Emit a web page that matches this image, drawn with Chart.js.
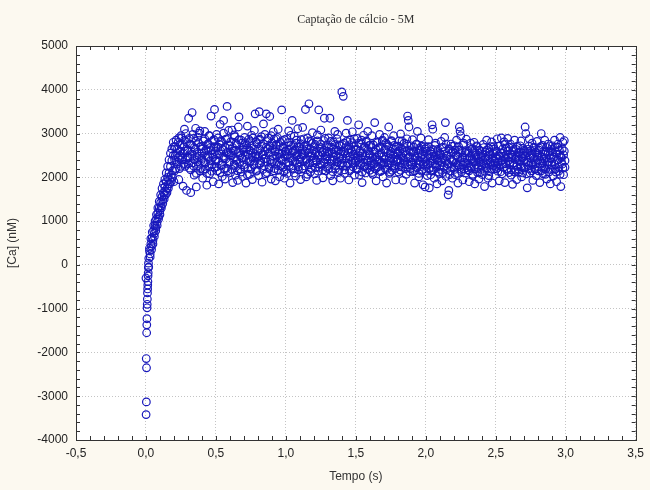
<!DOCTYPE html>
<html>
<head>
<meta charset="utf-8">
<script src="https://cdn.jsdelivr.net/npm/chart.js@4"></script>
<style>
  html, body { margin: 0; padding: 0; background: #fcf9f0; }
  #wrap { width: 650px; height: 490px; }
</style>
</head>
<body>
<div id="wrap"><canvas id="grafico" width="650" height="490"></canvas></div>
<script>
// Queda inicial (tempo em ms)
const tempoQueda = [0,1,2,3,4,5,6,7,8,9,10,11,12,13,14,15,16,17,18];
const calcioQueda = [-300,-3420,-2140,-3130,-2350,-1550,-1370,-1230,-980,-900,-780,-640,-550,-460,-380,-250,-180,-60,40];

// Subida (tempo em ms), duas leituras por instante
const tempoSubida = [20,25,30,35,40,45,50,55,60,65,70,75,80,85,90,95,100,105,110,115,120,125,130,135,140,145,
  150,155,160,165,170,175,180,185,190,195,200,205,210,215,220,225,230,235,240,245,
  250,255,260,265,270,275,280,285,290,295];
const calcioSubidaA = [150,320,250,480,430,620,560,780,720,900,850,1050,980,1180,1100,1300,1240,1420,1350,1560,1480,1650,1590,1780,1680,1900,
  1750,2000,1850,2100,1950,2250,2050,2380,2150,2500,1900,2400,2700,2200,2550,2350,2800,1950,2500,2750,
  2250,2900,2450,1800,2700,2850,2250,3000,1700,2600];
const calcioSubidaB = [-50,380,180,600,350,750,480,900,650,1000,780,1150,900,1300,1050,1450,1150,1600,1300,1750,1400,1850,1500,1950,1600,2100,
  1650,2250,1750,2400,1850,2550,1900,2650,2000,2800,2700,2150,2500,2850,2300,2650,2450,2900,2200,2600,
  2950,2400,2750,2550,2300,3100,2600,2400,2800,2450];

// Platô: tempo em ms, de 300 a 2995 a cada 5 ms
const tempoPlato = [
  300,305,310,315,320,325,330,335,340,345,350,355,360,365,370,375,380,385,390,395,
  400,405,410,415,420,425,430,435,440,445,450,455,460,465,470,475,480,485,490,495,
  500,505,510,515,520,525,530,535,540,545,550,555,560,565,570,575,580,585,590,595,
  600,605,610,615,620,625,630,635,640,645,650,655,660,665,670,675,680,685,690,695,
  700,705,710,715,720,725,730,735,740,745,750,755,760,765,770,775,780,785,790,795,
  800,805,810,815,820,825,830,835,840,845,850,855,860,865,870,875,880,885,890,895,
  900,905,910,915,920,925,930,935,940,945,950,955,960,965,970,975,980,985,990,995,
  1000,1005,1010,1015,1020,1025,1030,1035,1040,1045,1050,1055,1060,1065,1070,1075,1080,1085,1090,1095,
  1100,1105,1110,1115,1120,1125,1130,1135,1140,1145,1150,1155,1160,1165,1170,1175,1180,1185,1190,1195,
  1200,1205,1210,1215,1220,1225,1230,1235,1240,1245,1250,1255,1260,1265,1270,1275,1280,1285,1290,1295,
  1300,1305,1310,1315,1320,1325,1330,1335,1340,1345,1350,1355,1360,1365,1370,1375,1380,1385,1390,1395,
  1400,1405,1410,1415,1420,1425,1430,1435,1440,1445,1450,1455,1460,1465,1470,1475,1480,1485,1490,1495,
  1500,1505,1510,1515,1520,1525,1530,1535,1540,1545,1550,1555,1560,1565,1570,1575,1580,1585,1590,1595,
  1600,1605,1610,1615,1620,1625,1630,1635,1640,1645,1650,1655,1660,1665,1670,1675,1680,1685,1690,1695,
  1700,1705,1710,1715,1720,1725,1730,1735,1740,1745,1750,1755,1760,1765,1770,1775,1780,1785,1790,1795,
  1800,1805,1810,1815,1820,1825,1830,1835,1840,1845,1850,1855,1860,1865,1870,1875,1880,1885,1890,1895,
  1900,1905,1910,1915,1920,1925,1930,1935,1940,1945,1950,1955,1960,1965,1970,1975,1980,1985,1990,1995,
  2000,2005,2010,2015,2020,2025,2030,2035,2040,2045,2050,2055,2060,2065,2070,2075,2080,2085,2090,2095,
  2100,2105,2110,2115,2120,2125,2130,2135,2140,2145,2150,2155,2160,2165,2170,2175,2180,2185,2190,2195,
  2200,2205,2210,2215,2220,2225,2230,2235,2240,2245,2250,2255,2260,2265,2270,2275,2280,2285,2290,2295,
  2300,2305,2310,2315,2320,2325,2330,2335,2340,2345,2350,2355,2360,2365,2370,2375,2380,2385,2390,2395,
  2400,2405,2410,2415,2420,2425,2430,2435,2440,2445,2450,2455,2460,2465,2470,2475,2480,2485,2490,2495,
  2500,2505,2510,2515,2520,2525,2530,2535,2540,2545,2550,2555,2560,2565,2570,2575,2580,2585,2590,2595,
  2600,2605,2610,2615,2620,2625,2630,2635,2640,2645,2650,2655,2660,2665,2670,2675,2680,2685,2690,2695,
  2700,2705,2710,2715,2720,2725,2730,2735,2740,2745,2750,2755,2760,2765,2770,2775,2780,2785,2790,2795,
  2800,2805,2810,2815,2820,2825,2830,2835,2840,2845,2850,2855,2860,2865,2870,2875,2880,2885,2890,2895,
  2900,2905,2910,2915,2920,2925,2930,2935,2940,2945,2950,2955,2960,2965,2970,2975,2980,2985,2990,2995
];
const calcioPlatoA = [
  2480,3350,2210,2760,1650,2590,3480,2330,2890,2050,2640,3120,1780,2450,2920,2270,3010,2150,2700,2380,
  2560,1980,2830,2340,3050,2190,2610,1820,2750,2470,2950,2080,2680,3400,2290,2520,1900,2860,3550,2410,
  2370,2980,2150,2690,1850,2540,3210,2270,2800,2020,2630,3300,2440,1960,2870,2210,3620,2580,3070,2350,
  2720,2110,2490,3080,1880,2610,2300,2930,2050,2780,2400,1930,3150,3380,2560,2190,2850,2440,2020,2680,
  2290,2910,2500,1870,2740,3170,2210,2620,2070,2830,2380,2960,1950,2560,2300,3070,3450,2480,2140,2770,
  2600,2040,3500,2870,2330,2710,1890,2520,3220,2260,2980,2430,3450,2110,2650,2900,2200,3390,2580,1960,
  2790,2360,3040,2150,2610,1920,2880,2480,2270,3100,2540,2010,2720,2410,3540,2840,2230,2670,1980,2590,
  2320,2880,2090,2640,3060,2270,1870,2730,2450,3300,2190,2600,2940,2360,2030,2780,2500,3110,2240,2680,
  2420,1950,2860,2550,3140,2200,2710,2380,3550,2010,2640,2900,2290,3680,2470,2120,2820,2560,3020,2330,
  2610,2080,2750,2390,1930,2970,2500,3540,2230,2680,3080,2310,2560,1990,2840,3350,2420,2150,2730,2480,
  2260,2900,2570,3350,2040,2690,2380,1920,2810,2460,3050,2200,2620,2350,2980,2110,2740,2450,1980,2590,
  3950,2330,3850,2780,2090,2540,3010,2260,3300,2640,1940,2470,2850,2180,2590,3040,2320,2700,2050,2430,
  2620,2190,2890,2410,3200,2050,2560,2310,2770,1880,2490,2960,2240,2680,2100,2830,2390,3050,2280,2520,
  2160,2740,2380,2950,2070,2590,2300,3250,2460,1920,2810,2250,2670,2400,2980,2130,2560,2340,2850,2010,
  2480,2910,2200,2640,1870,2750,2330,3150,2090,2540,2380,2820,2160,2650,2950,2270,2460,1940,2700,2390,
  2560,2120,2830,2370,2990,2240,2650,1930,2440,2780,2310,2590,2070,2880,3400,3300,3150,2470,2200,2720,
  2340,2860,2130,2590,1870,2450,2750,2220,3050,2380,2010,2660,2290,2900,2140,2520,1830,2410,2700,1780,
  2250,2680,2040,2470,2860,1760,2330,2590,2150,3200,3100,2420,1980,2730,2280,2520,1850,2640,2370,2090,
  2550,2180,2820,1920,2410,2690,2260,2910,3250,2020,2480,2310,1600,1700,2640,2140,2760,2390,1980,2580,
  2230,2720,2060,2490,2850,2280,1870,2620,3150,3050,2950,2180,2460,1940,2780,2340,2560,2100,2870,2410,
  2170,2590,1900,2450,2780,2230,2650,2040,2370,2800,1850,2510,2290,2700,2110,2420,1960,2620,2340,2180,
  2480,2060,2750,2310,1790,2580,2220,2850,2400,1980,2660,2130,2520,2290,2810,1870,2450,2700,2190,2370,
  2600,2250,2880,2140,2490,1920,2720,2360,2900,2080,2550,2310,2810,1880,2430,2670,2200,2890,2460,2110,
  2340,2760,2050,2520,1840,2630,2280,2850,2160,2470,1950,2710,2390,2120,2580,2300,2830,2010,2440,2660,
  2210,2590,3150,3000,2350,1760,2640,2270,2880,2100,2500,2330,2780,1930,2450,2690,2180,2560,2040,2820,
  2390,2150,2670,1880,2490,3000,2260,2730,2080,2420,2850,2190,2580,1960,2340,2760,2120,2510,1850,2640,
  2280,2720,2030,2470,2850,2180,2580,1900,2390,2690,2140,2520,2910,1790,2450,2300,2800,2060,2600,2230
];
const calcioPlatoB = [
  2620,2310,2890,2450,2170,2740,2530,2980,2260,2680,2400,2830,2090,2570,2350,2790,2480,3060,2200,2650,
  2430,2710,2180,2560,2880,2320,2640,2090,2500,2770,2250,2950,2380,2610,2140,2830,2460,2700,2230,2590,
  2670,2240,2520,2900,2370,2750,2110,2600,2830,2290,2480,3010,2200,2690,2420,2560,2880,2150,2740,2510,
  2350,2810,2560,2180,2680,2430,2970,2270,2620,2380,2740,2150,2590,2860,2320,2500,2120,2780,2440,2630,
  2580,2230,2790,2410,2660,2050,2530,2870,2340,2610,2190,2720,2460,2900,2280,2640,2370,2810,2520,2160,
  2470,2850,2290,2640,2380,2930,2510,2180,2760,2420,2600,2080,2690,2350,2840,2550,2230,2710,2400,2950,
  2310,2660,2490,2870,2200,2580,2740,2350,2910,2160,2630,2450,2800,2260,2540,2380,2690,2120,2860,2470,
  2600,2180,2520,2790,2340,2650,2440,2960,2210,2570,2380,2730,2100,2620,2480,2850,2300,2560,2170,2700,
  2350,2770,2460,2190,2640,2520,2880,2260,2590,2410,2720,2070,2560,2830,2330,2650,2200,2490,2780,2380,
  2450,2700,2220,2580,2360,2830,2140,2510,2650,2290,2760,2420,2580,2170,2620,2340,2890,2480,2230,2600,
  2540,2200,2690,2420,2820,2310,2570,2130,2640,2390,2750,2260,2500,2880,2350,2610,2180,2530,2720,2290,
  2410,2750,2260,2590,2170,2680,2440,2820,2310,2560,2720,2150,2480,2650,2370,2790,2240,2530,2880,2330,
  2370,2640,2180,2510,2780,2290,2600,2430,2850,2120,2560,2340,2700,2250,2490,2800,2200,2610,2380,2730,
  2500,2270,2680,2110,2450,2740,2320,2580,2190,2630,2390,2790,2240,2520,2360,2690,2150,2470,2820,2290,
  2330,2620,2410,2780,2180,2560,2290,2700,2450,2120,2590,2840,2260,2510,2380,2730,2200,2640,2350,2560,
  2420,2710,2250,2600,2160,2490,2830,2310,2570,2390,2680,2200,2520,2760,2280,2450,2620,2130,2580,2350,
  2280,2570,2400,2690,2150,2480,2330,2760,2220,2550,2090,2620,2370,2470,2710,2180,2590,2300,2440,2650,
  2360,2140,2590,2290,2700,2200,2450,2060,2530,2380,2640,2170,2490,2310,2780,2230,2420,2600,2120,2510,
  2270,2520,2340,2680,2110,2450,2230,2590,2380,2760,2180,2500,2300,2650,2060,2420,2560,2240,2710,2360,
  2410,2180,2620,2330,2510,2090,2470,2700,2250,2560,2360,2130,2600,2280,2740,2190,2440,2310,2590,2220,
  2320,2550,2150,2480,2680,2260,2410,2070,2560,2340,2620,2190,2450,2720,2230,2500,2370,2610,2110,2470,
  2260,2530,2390,2680,2140,2450,2310,2620,2210,2490,2040,2580,2350,2700,2180,2420,2560,2270,2640,2330,
  2440,2200,2590,2350,2710,2270,2480,2130,2560,2390,2650,2230,2470,2760,2310,2520,2160,2600,2380,2690,
  2290,2540,2170,2460,2680,2330,2590,2120,2410,2640,2250,2500,2190,2570,2380,2720,2240,2480,2100,2550,
  2370,2620,2230,2490,2080,2560,2340,2710,2200,2450,2610,2150,2530,2290,2670,2410,2190,2580,2320,2460,
  2510,2240,2620,2380,2700,2150,2460,2330,2590,2210,2530,2070,2440,2680,2290,2570,2360,2720,2180,2430,
  2350,2580,2190,2460,2300,2690,2120,2530,2400,2760,2230,2620,2070,2480,2340,2650,2210,2510,2840,2380
];

const ticksX = [-0.5, 0, 0.5, 1, 1.5, 2, 2.5, 3, 3.5];
const ticksY = [-4000, -3000, -2000, -1000, 0, 1000, 2000, 3000, 4000, 5000];

function pares(tempos, valores) {
    return tempos.map((ms, i) => ({ x: ms / 1000, y: valores[i] }));
}
const pontos = [].concat(
    pares(tempoQueda, calcioQueda),
    pares(tempoSubida, calcioSubidaA),
    pares(tempoSubida, calcioSubidaB),
    pares(tempoPlato, calcioPlatoA),
    pares(tempoPlato, calcioPlatoB)
);

// fundo creme + área branca, moldura e marcas internas
const moldura = {
    id: 'moldura',
    beforeDraw(chart) {
        const ctx = chart.ctx, a = chart.chartArea;
        ctx.save();
        ctx.fillStyle = '#fcf9f0';
        ctx.fillRect(0, 0, chart.width, chart.height);
        ctx.fillStyle = '#ffffff';
        ctx.fillRect(a.left, a.top, a.right - a.left, a.bottom - a.top);
        ctx.restore();
    },
    afterDraw(chart) {
        const ctx = chart.ctx, a = chart.chartArea;
        const sx = chart.scales.x, sy = chart.scales.y;
        ctx.save();
        ctx.strokeStyle = '#333';
        ctx.lineWidth = 1;
        ctx.beginPath();
        for (let v = -0.5; v <= 3.5001; v += 0.1) {
            const px = Math.round(sx.getPixelForValue(v)) + 0.5;
            ctx.moveTo(px, a.bottom); ctx.lineTo(px, a.bottom - 4);
            ctx.moveTo(px, a.top); ctx.lineTo(px, a.top + 4);
        }
        for (let v = -4000; v <= 5000; v += 200) {
            const py = Math.round(sy.getPixelForValue(v)) + 0.5;
            ctx.moveTo(a.left, py); ctx.lineTo(a.left + 4, py);
            ctx.moveTo(a.right, py); ctx.lineTo(a.right - 4, py);
        }
        ctx.stroke();
        ctx.strokeRect(Math.round(a.left) + 0.5, Math.round(a.top) + 0.5,
            Math.round(a.right - a.left), Math.round(a.bottom - a.top));
        ctx.restore();
    }
};

new Chart(document.getElementById('grafico'), {
    type: 'scatter',
    data: {
        datasets: [{
            label: 'Ca',
            data: pontos,
            pointRadius: 3.8,
            pointBorderWidth: 1.2,
            pointBorderColor: '#1818bc',
            pointBackgroundColor: 'rgba(255,255,255,0)'
        }]
    },
    options: {
        responsive: false,
        animation: false,
        layout: { padding: { left: 0, right: 12, top: 0, bottom: 0 } },
        plugins: {
            legend: { display: false },
            tooltip: { enabled: false },
            title: {
                display: true,
                fullSize: false,
                text: 'Captação de cálcio - 5M',
                color: '#333',
                font: { family: 'Liberation Serif', size: 12, weight: 'normal' },
                padding: { top: 13, bottom: 18.6 }
            }
        },
        scales: {
            x: {
                min: -0.5,
                max: 3.5,
                afterFit(scale) { scale.height = 50; },
                afterBuildTicks(scale) { scale.ticks = ticksX.map(v => ({ value: v })); },
                ticks: {
                    color: '#222',
                    padding: 6,
                    font: { family: 'Liberation Sans', size: 12 },
                    callback: v => v.toFixed(1).replace('.', ',')
                },
                grid: { color: '#c4c4c4', drawTicks: false },
                border: { display: false, dash: [1, 2] },
                title: {
                    display: true,
                    text: 'Tempo (s)',
                    color: '#333',
                    font: { family: 'Liberation Sans', size: 12 },
                    padding: { top: 0, bottom: 6 }
                }
            },
            y: {
                min: -4000,
                max: 5000,
                afterFit(scale) { scale.width = 76; },
                afterBuildTicks(scale) { scale.ticks = ticksY.map(v => ({ value: v })); },
                ticks: {
                    color: '#222',
                    padding: 8,
                    font: { family: 'Liberation Sans', size: 12 },
                    callback: v => String(v)
                },
                grid: { color: '#c4c4c4', drawTicks: false },
                border: { display: false, dash: [1, 2] },
                title: {
                    display: true,
                    text: '[Ca] (nM)',
                    color: '#333',
                    font: { family: 'Liberation Sans', size: 12 },
                    padding: { top: 5, bottom: 0 }
                }
            }
        }
    },
    plugins: [moldura]
});
</script>
</body>
</html>
